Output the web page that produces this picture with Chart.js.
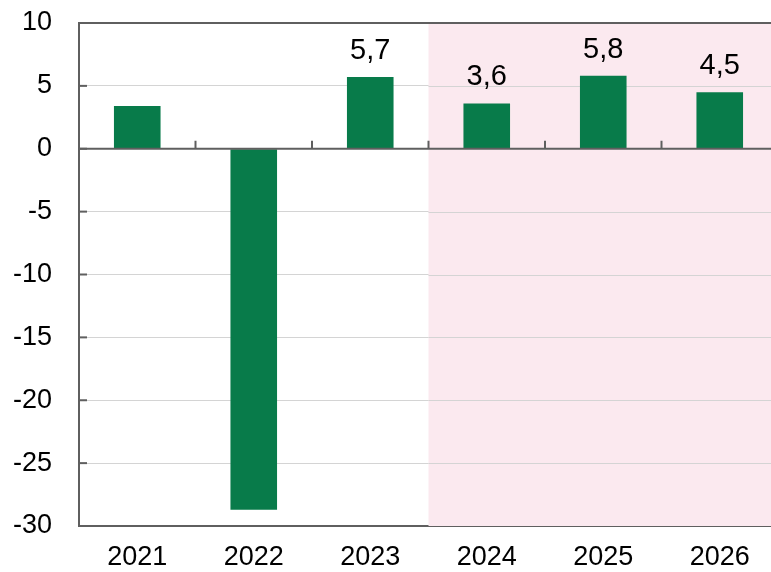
<!DOCTYPE html>
<html lang="en">
<head>
    <meta charset="UTF-8">
    <title>Annual change</title>
    <style>
        body {
            margin: 0;
            background: white;
            overflow: hidden;
        }

        #chart-container {
            width: 778px;
            height: 572px;
        }
    </style>
    <script src="https://cdn.jsdelivr.net/npm/chart.js"></script>
</head>
<body>
    <div id="chart-container">
        <canvas id="growthChart" width="778" height="572"></canvas>
    </div>
    <script>
        const years = ['2021', '2022', '2023', '2024', '2025', '2026'];
        const values = [3.4, -28.7, 5.7, 3.6, 5.8, 4.5];
        const labelled = [false, false, true, true, true, true];
        const yTicks = [10, 5, 0, -5, -10, -15, -20, -25, -30];
        const firstForecast = 3; // index of first shaded year

        const axisColor = '#5f5f5f';
        const fontFamily = '"Liberation Sans", Arial, sans-serif';

        // pink band behind the forecast years
        const forecastBand = {
            id: 'forecastBand',
            beforeDatasetsDraw(chart) {
                const { ctx, chartArea, scales } = chart;
                const x0 = scales.x.getPixelForValue(firstForecast - 0.5);
                ctx.save();
                ctx.fillStyle = '#fbe9ef';
                ctx.fillRect(x0, chartArea.top, chartArea.right - x0, chartArea.bottom - chartArea.top);
                // redraw grid lines over the band
                ctx.strokeStyle = '#d4d4d4';
                ctx.lineWidth = 1;
                yTicks.forEach(v => {
                    if (v === 10 || v === 0 || v === -30) return;
                    const y = Math.round(scales.y.getPixelForValue(v)) + 0.5;
                    ctx.beginPath();
                    ctx.moveTo(x0, y);
                    ctx.lineTo(chartArea.right, y);
                    ctx.stroke();
                });
                ctx.restore();
            }
        };

        // zero line, category ticks, y tick marks and value labels
        const extras = {
            id: 'extras',
            afterDatasetsDraw(chart) {
                const { ctx, chartArea, scales } = chart;
                const zeroY = scales.y.getPixelForValue(0);
                ctx.save();
                ctx.strokeStyle = axisColor;
                ctx.lineWidth = 2;
                ctx.beginPath();
                ctx.moveTo(chartArea.left, zeroY);
                ctx.lineTo(chartArea.right, zeroY);
                ctx.stroke();

                for (let i = 0; i < years.length - 1; i++) {
                    const x = scales.x.getPixelForValue(i + 0.5);
                    ctx.beginPath();
                    ctx.moveTo(x, zeroY);
                    ctx.lineTo(x, zeroY - 8);
                    ctx.stroke();
                }

                yTicks.forEach(v => {
                    const y = scales.y.getPixelForValue(v);
                    ctx.beginPath();
                    ctx.moveTo(chartArea.left, y);
                    ctx.lineTo(chartArea.left + 8, y);
                    ctx.stroke();
                });

                // top border
                ctx.beginPath();
                ctx.moveTo(chartArea.left, chartArea.top);
                ctx.lineTo(chartArea.right, chartArea.top);
                ctx.stroke();

                ctx.fillStyle = '#000';
                ctx.font = '29px ' + fontFamily;
                ctx.textAlign = 'center';
                ctx.textBaseline = 'alphabetic';
                const meta = chart.getDatasetMeta(0);
                meta.data.forEach((bar, i) => {
                    if (!labelled[i]) return;
                    const txt = values[i].toFixed(1).replace('.', ',');
                    ctx.fillText(txt, bar.x, bar.y - 18);
                });
                ctx.restore();
            }
        };

        const ctx = document.getElementById('growthChart').getContext('2d');
        new Chart(ctx, {
            type: 'bar',
            data: {
                labels: years,
                datasets: [{
                    data: values,
                    backgroundColor: '#087b4a',
                    borderWidth: 0,
                    barPercentage: 0.8,
                    categoryPercentage: 0.5
                }]
            },
            options: {
                responsive: false,
                animation: false,
                layout: {
                    padding: { top: 23, right: 0, left: 0, bottom: 0 }
                },
                scales: {
                    x: {
                        grid: { display: false, drawTicks: false },
                        border: { color: axisColor, width: 2 },
                        ticks: {
                            color: '#000',
                            padding: 15,
                            font: { family: fontFamily, size: 27 }
                        },
                        afterFit(scale) { scale.height = 46; }
                    },
                    y: {
                        min: -30,
                        max: 10,
                        afterBuildTicks(scale) {
                            scale.ticks = yTicks.map(v => ({ value: v }));
                        },
                        grid: {
                            drawTicks: false,
                            color: ctx => (ctx.tick && (ctx.tick.value === 10 || ctx.tick.value === 0)) ? 'rgba(0,0,0,0)' : '#d4d4d4'
                        },
                        border: { color: axisColor, width: 2 },
                        ticks: {
                            color: '#000',
                            padding: 27,
                            font: { family: fontFamily, size: 27 }
                        },
                        afterFit(scale) {
                            scale.width = 79;
                            scale.paddingTop = 0;
                            scale.paddingBottom = 0;
                        }
                    }
                },
                plugins: {
                    legend: { display: false },
                    tooltip: { enabled: false }
                }
            },
            plugins: [forecastBand, extras]
        });
    </script>
</body>
</html>
